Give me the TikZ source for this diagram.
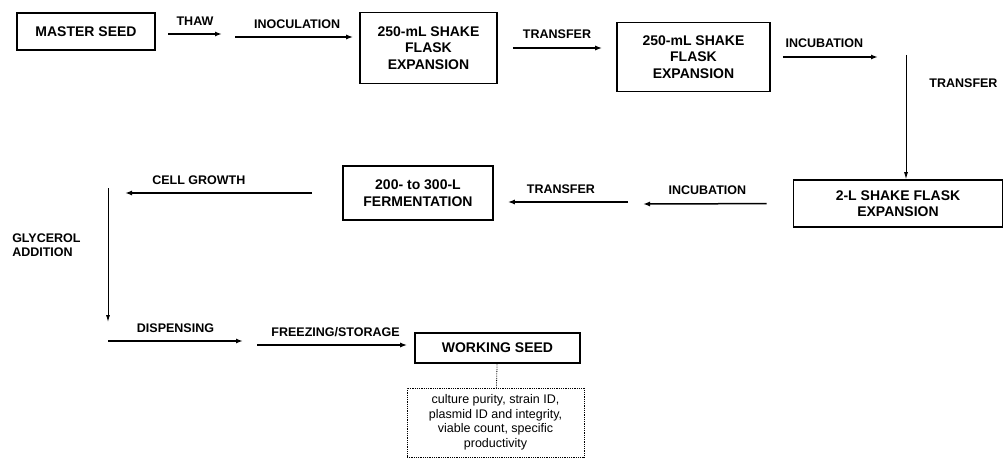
\documentclass[tikz,border=0pt]{standalone}
\usepackage{fontspec}
\setmainfont{Liberation Sans}
\usetikzlibrary{arrows.meta, positioning, calc}
\tikzset{
  >=latex,
  % Riquadri delle fasi
  box/.style={draw, line width=1.6pt, font=\fontsize{14}{16.5}\selectfont\bfseries, align=center, inner sep=2pt},
  box qc/.style={draw, densely dotted, line width=0.8pt, font=\fontsize{12.5}{14.5}\selectfont, align=center, inner sep=2pt},
  % Etichette e connessioni
  lbl/.style={font=\fontsize{12.5}{14}\selectfont\bfseries, inner sep=1pt},
  connect arrow/.style={-{Latex[length=7,width=5]}, line width=1.5pt},
  connect line/.style={-{Latex[length=7,width=4]}, line width=0.9pt}
}
\begin{document}
\begin{tikzpicture}[x=1pt,y=-1pt]
  \useasboundingbox (0,0) rectangle (1004,460);
  % fasi
  \node[box, minimum width=138, minimum height=37] (master) at (86,31.5) {MASTER SEED};
  \node[box, minimum width=137, minimum height=71] (flask1) at (428.5,48) {250-mL SHAKE\\FLASK\\EXPANSION};
  \node[box, minimum width=153, minimum height=69] (flask2) at (693.5,57) {250-mL SHAKE\\FLASK\\EXPANSION};
  \node[box, minimum width=209, minimum height=47] (flask3) at (898,203.5) {2-L SHAKE FLASK\\EXPANSION};
  \node[box, minimum width=150, minimum height=54] (ferm) at (418,193) {200- to 300-L\\FERMENTATION};
  \node[box, minimum width=165, minimum height=30] (working) at (497.5,348) {WORKING SEED};
  \node[box qc, minimum width=177, minimum height=69] (qc) at (495.5,422.5) {culture purity, strain ID,\\plasmid ID and integrity,\\viable count, specific\\productivity};
  % estremi liberi delle frecce
  \coordinate (thaw a) at (168,34);
  \coordinate (thaw b) at (222,34);
  \coordinate (inoc a) at (235,37);
  \coordinate (incub a) at (878,57);
  \coordinate (vert a) at (906,55);
  \coordinate (incub2 b) at (643,204);
  \coordinate (trans2 a) at (628,202);
  \coordinate (growth b) at (125,193);
  \coordinate (glyc a) at (108,188);
  \coordinate (glyc b) at (108,322);
  \coordinate (disp a) at (108,341);
  \coordinate (disp b) at (243,341);
  \coordinate (freeze a) at (257,345);
  % connessioni
  \draw[connect arrow] (thaw a) -- node[lbl, above=7pt]{THAW} (thaw b);
  \draw[connect arrow, shorten >=6pt] (inoc a) -- node[lbl, above=7pt]{INOCULATION} (inoc a -| flask1.west);
  \draw[connect arrow, shorten <=15pt, shorten >=14pt] (flask1.east) -- node[lbl, above=8pt]{TRANSFER} (flask1.east -| flask2.west);
  \draw[connect arrow, shorten <=12pt] (flask2.east) -- node[lbl, above=8pt]{INCUBATION} (incub a);
  \draw[connect line] (vert a) -- node[lbl, pos=0.23, right=22pt]{TRANSFER} (vert a |- flask3.north);
  \draw[connect arrow, shorten <=26pt] (flask3.west) -- node[lbl, pos=0.57, above=7pt]{INCUBATION} (incub2 b);
  \draw[connect arrow, shorten >=14pt] (trans2 a) -- node[lbl, above=7pt]{TRANSFER} (ferm.east |- trans2 a);
  \draw[connect arrow, shorten <=30pt] (ferm.west) -- node[lbl, pos=0.66, above=7pt]{CELL GROWTH} (growth b);
  \draw[connect line] (glyc a) -- node[lbl, pos=0.43, left=26pt, align=left]{GLYCEROL\\ADDITION} (glyc b);
  \draw[connect arrow] (disp a) -- node[lbl, above=7pt]{DISPENSING} (disp b);
  \draw[connect arrow, shorten >=7pt] (freeze a) -- node[lbl, above=7pt]{FREEZING/STORAGE} (freeze a -| working.west);
  \draw[densely dotted, line width=0.8pt] (working) -- (qc);
\end{tikzpicture}
\end{document}
